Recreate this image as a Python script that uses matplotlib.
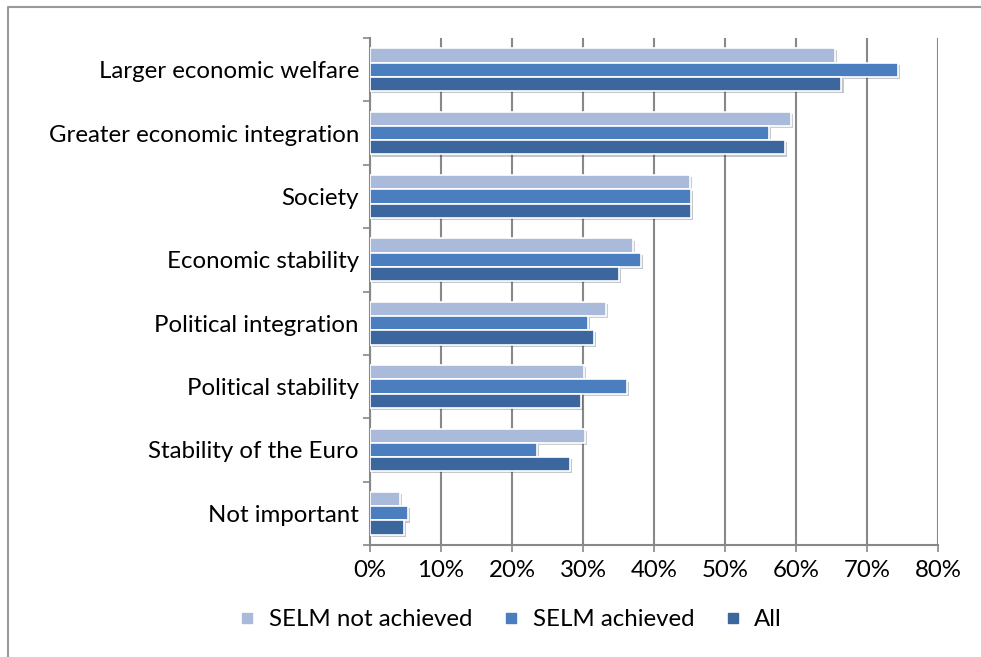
import numpy as np
import matplotlib.pyplot as plt
import matplotlib.patheffects as pe
from matplotlib.lines import Line2D

# Dados (percentagens)
categorias = ['Larger economic welfare', 'Greater economic integration', 'Society',
              'Economic stability', 'Political integration', 'Political stability',
              'Stability of the Euro', 'Not important']
nao_atingido = [65.5, 59.3, 45.0, 37.0, 33.2, 30.1, 30.3, 4.2]
atingido = [74.3, 56.2, 45.2, 38.1, 30.7, 36.2, 23.5, 5.4]
todos = [66.4, 58.5, 45.2, 35.1, 31.6, 29.7, 28.1, 4.8]
series = ['SELM not achieved', 'SELM achieved', 'All']
cores = ['#a9badb', '#4a7ebf', '#3b679e']
xticks = [0, 10, 20, 30, 40, 50, 60, 70, 80]

plt.rcParams['font.family'] = ['Lato', 'DejaVu Sans']
fs = 17.3

fig = plt.figure(figsize=(9.81, 6.57), dpi=100)
ax = fig.add_axes([370 / 981, 1 - 545 / 657, 568 / 981, 507 / 657])

y = np.arange(len(categorias))
h = 0.225
sombra = [pe.SimplePatchShadow(offset=(1.5, -1.5), alpha=0.25), pe.Normal()]
for i, (vals, cor, nome) in enumerate(zip([nao_atingido, atingido, todos], cores, series)):
    bars = ax.barh(y + (i - 1) * h, vals, height=h, color=cor, edgecolor='white',
                   linewidth=1.2, label=nome, zorder=3)
    for b in bars:
        b.set_path_effects(sombra)

ax.set_xlim(0, 80)
ax.set_ylim(len(categorias) - 0.5, -0.5)
ax.set_xticks(xticks)
ax.set_xticklabels([f'{v}%' for v in xticks], fontsize=fs)
ax.set_yticks(y)
ax.set_yticklabels(categorias, fontsize=fs)
ax.set_yticks(np.arange(len(categorias) + 1) - 0.5, minor=True)
ax.tick_params(axis='y', which='major', length=0, pad=8)
ax.tick_params(axis='y', which='minor', length=5, color='#888888', width=1.2)
ax.tick_params(axis='x', length=5, color='#888888', width=1.2, pad=6)
ax.grid(axis='x', color='#888888', linewidth=1.5, zorder=0)
for s in ['top', 'right']:
    ax.spines[s].set_visible(False)
for s in ['left', 'bottom']:
    ax.spines[s].set_color('#888888')
    ax.spines[s].set_linewidth(1.5)

handles = [Line2D([], [], marker='s', linestyle='', markersize=7, color=c) for c in cores]
fig.legend(handles, series, loc='center', bbox_to_anchor=(510 / 981, 1 - 620 / 657),
           ncol=3, frameon=False, fontsize=fs, handlelength=0.8, handletextpad=0.5,
           columnspacing=1.2)

# moldura (só topo e esquerda visíveis)
fig.add_artist(Line2D([8 / 981, 8 / 981, 1], [0, 1 - 7 / 657, 1 - 7 / 657],
                      transform=fig.transFigure, color='#999999', linewidth=1.5))

fig.savefig('out.png', dpi=100)
